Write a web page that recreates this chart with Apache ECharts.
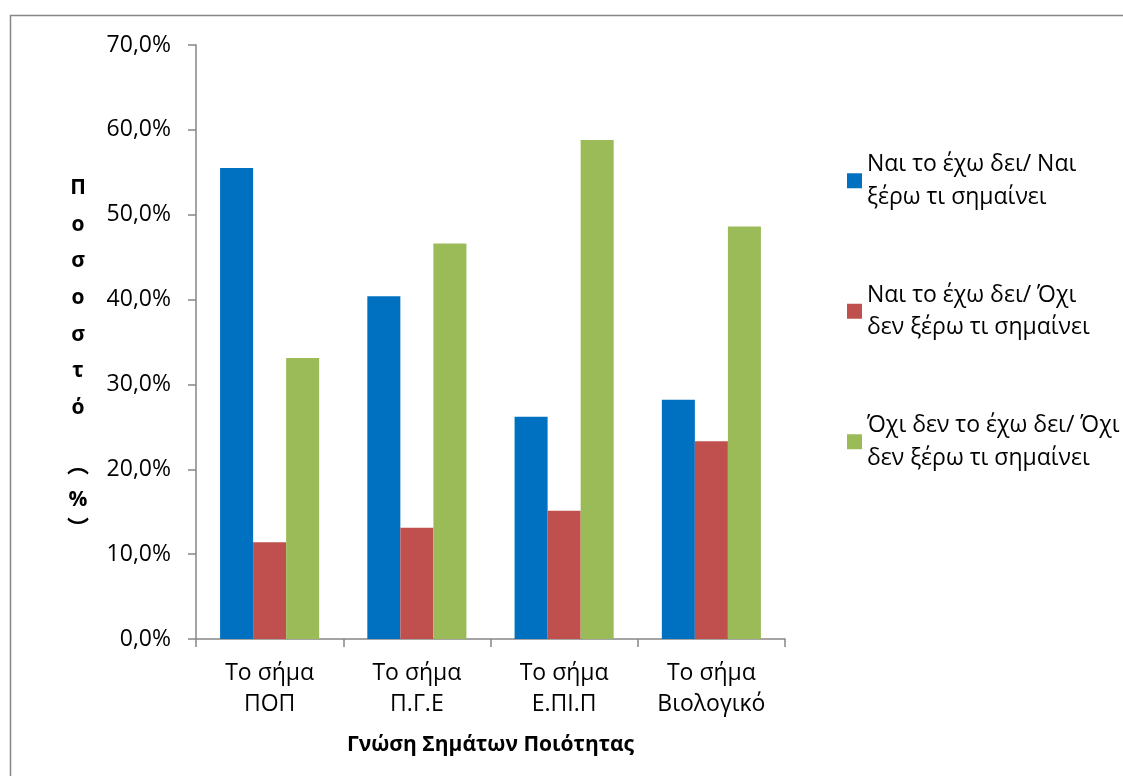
<!DOCTYPE html>
<html>
<head>
<meta charset="utf-8">
<title>Γνώση Σημάτων Ποιότητας</title>
<script src="https://cdn.jsdelivr.net/npm/echarts@6/dist/echarts.min.js"></script>
<style>
  html, body { margin: 0; padding: 0; background: #ffffff; }
  #chart { width: 1123px; height: 776px; }
</style>
</head>
<body>
<div id="chart"></div>
<script>
// Quality-mark categories (two-line labels)
const categories = [
  'Το σήμα\nΠΟΠ',
  'Το σήμα\nΠ.Γ.Ε',
  'Το σήμα\nΕ.ΠΙ.Π',
  'Το σήμα\nΒιολογικό'
];

// Series names (legend, wrapped on two lines)
const seriesNames = [
  'Ναι το έχω δει/ Ναι\nξέρω τι σημαίνει',
  'Ναι το έχω δει/ Όχι\nδεν ξέρω τι σημαίνει',
  'Όχι δεν το έχω δει/ Όχι\nδεν ξέρω τι σημαίνει'
];

// Percentages per category
const seenAndKnow = [55.5, 40.4, 26.2, 28.2];
const seenNotKnow = [11.4, 13.1, 15.1, 23.3];
const notSeenNotKnow = [33.1, 46.6, 58.8, 48.6];

// Value axis ticks
const yMin = 0;
const yMax = 70;
const yStep = 10;

const seriesColors = ['#0070C0', '#C0504D', '#9BBB59'];
const FONT = '"Open Sans", "Noto Sans", sans-serif';
const CJK = '"Noto Sans CJK SC", "Noto Sans", sans-serif';
const AXIS_GRAY = '#868686';

const chart = echarts.init(document.getElementById('chart'), null, { renderer: 'canvas' });

const seriesData = [seenAndKnow, seenNotKnow, notSeenNotKnow];

const option = {
  backgroundColor: '#ffffff',
  animation: false,
  textStyle: { fontFamily: FONT, color: '#000' },
  color: seriesColors,
  grid: { left: 196, top: 45, right: 338, bottom: 137, containLabel: false },
  legend: {
    orient: 'vertical',
    left: 842,
    top: 127,
    itemWidth: 15,
    itemHeight: 15,
    itemGap: 33,
    icon: 'rect',
    selectedMode: false,
    data: seriesNames,
    textStyle: {
      fontFamily: FONT,
      fontSize: 23,
      color: '#000',
      lineHeight: 32.5,
      padding: [32.5, 0, 0, 0]
    }
  },
  xAxis: {
    type: 'category',
    data: categories,
    name: 'Γνώση Σημάτων Ποιότητας',
    nameLocation: 'middle',
    nameGap: 96,
    nameTextStyle: { fontFamily: FONT, fontSize: 21, fontWeight: 'bold', color: '#000' },
    axisLine: { lineStyle: { color: AXIS_GRAY, width: 1.5 } },
    axisTick: { show: true, length: 8, alignWithLabel: false, lineStyle: { color: AXIS_GRAY, width: 1.5 } },
    axisLabel: {
      fontFamily: FONT, fontSize: 23, color: '#000',
      lineHeight: 31, margin: 19, interval: 0, align: 'center'
    },
    splitLine: { show: false }
  },
  yAxis: {
    type: 'value',
    min: yMin,
    max: yMax,
    interval: yStep,
    axisLine: { show: true, lineStyle: { color: AXIS_GRAY, width: 1.5 } },
    axisTick: { show: true, length: 8, inside: false, lineStyle: { color: AXIS_GRAY, width: 1.5 } },
    axisLabel: {
      fontFamily: FONT, fontSize: 23, color: '#000', margin: 25,
      formatter: v => v.toFixed(1).replace('.', ',') + '%'
    },
    splitLine: { show: false }
  },
  series: seriesNames.map((name, i) => ({
    name: name,
    type: 'bar',
    data: seriesData[i],
    barGap: '0%',
    barCategoryGap: '32.7%',
    itemStyle: { color: seriesColors[i] }
  })),
  graphic: [
    // outer chart-area frame
    {
      type: 'rect',
      shape: { x: 10.5, y: 15.5, width: 1300, height: 1000 },
      style: { fill: 'none', stroke: AXIS_GRAY, lineWidth: 1.5 },
      silent: true
    },
    // stacked vertical axis title "Ποσοστό (%)"
    {
      type: 'text',
      x: 78, y: 169.5,
      style: {
        text: 'Π\nο\nσ\nο\nσ\nτ\nό',
        font: 'bold 21px ' + FONT,
        fill: '#000',
        align: 'center',
        verticalAlign: 'top',
        lineHeight: 36.7
      }
    },
    {
      type: 'text',
      x: 78, y: 464,
      style: { text: '︵', font: 'bold 22px ' + CJK, fill: '#000', align: 'center', verticalAlign: 'middle' }
    },
    {
      type: 'text',
      x: 78, y: 500,
      style: { text: '%', font: 'bold 21px ' + FONT, fill: '#000', align: 'center', verticalAlign: 'middle' }
    },
    {
      type: 'text',
      x: 78, y: 528,
      style: { text: '︶', font: 'bold 22px ' + CJK, fill: '#000', align: 'center', verticalAlign: 'middle' }
    }
  ]
};

chart.setOption(option);
</script>
</body>
</html>
